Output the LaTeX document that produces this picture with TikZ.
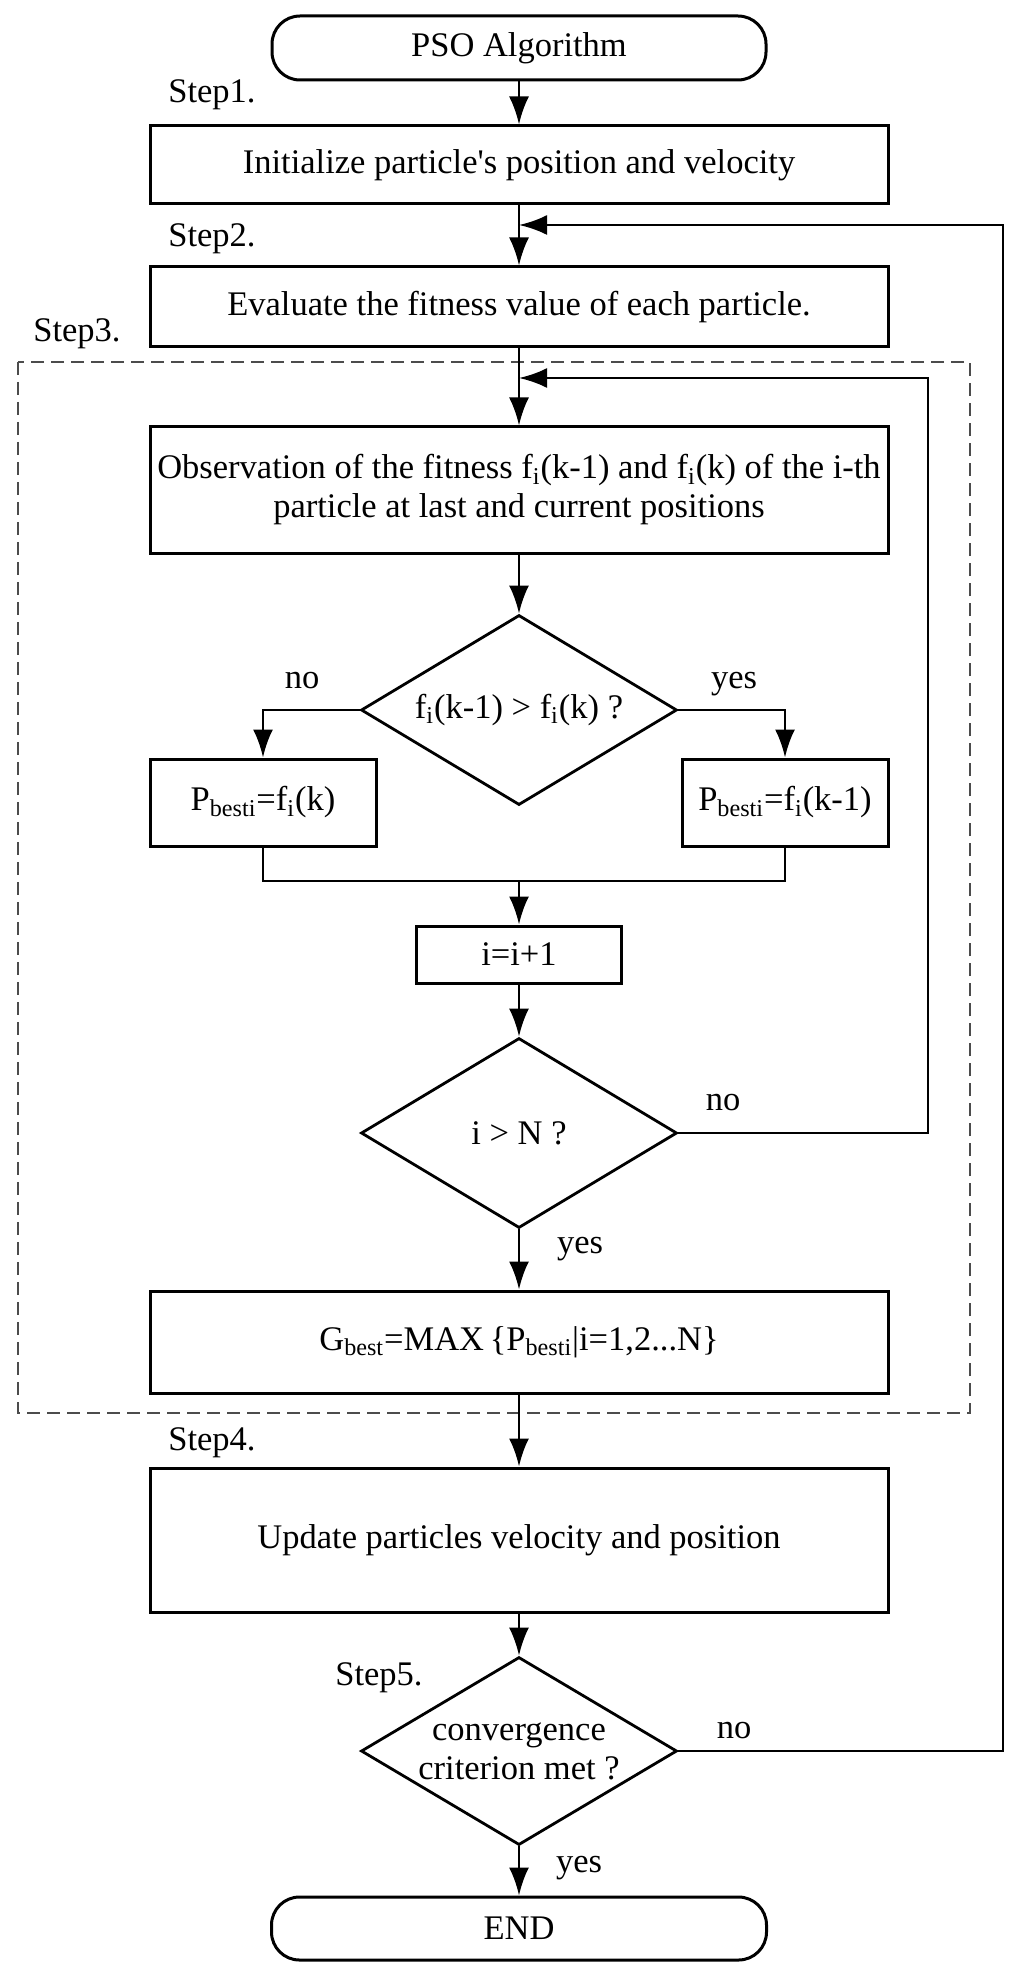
\documentclass[tikz,border=0pt]{standalone}
\usepackage{fontspec}
\setmainfont{Liberation Serif}
\usetikzlibrary{arrows.meta,shapes.geometric}
\begin{document}
\begin{tikzpicture}[x=0.5pt,y=-0.5pt,
  every node/.style={font=\fontsize{17.25}{19.5}\selectfont, inner sep=0pt},
  box/.style={draw, line width=1.5pt, rectangle, align=center},
  term/.style={draw, line width=1.5pt, rectangle, rounded corners=14pt},
  dec/.style={draw, line width=1.4pt, diamond, aspect=1.66, align=center},
  arr/.style={line width=1.4pt, -{Latex[length=14pt,width=10pt]}},
  ln/.style={line width=1.4pt},
  lbl/.style={anchor=base},
  steplbl/.style={anchor=base west},
  grp/.style={draw=black!70, line width=1pt, dash pattern=on 6.5pt off 3.5pt}
]
\useasboundingbox (0,0) rectangle (1024,1973);
\fill[white] (0,0) rectangle (1024,1973);

% dashed group (Step3)
\draw[grp] (18,362) rectangle (970,1413);

% nodes
\node[term, minimum width=247pt, minimum height=32pt] (start) at (519,48) {PSO Algorithm};
\node[box, minimum width=369pt, minimum height=39pt] (init) at (519,165) {Initialize particle\textquotesingle s position and velocity};
\node[box, minimum width=369pt, minimum height=40pt] (eval) at (519,307) {Evaluate the fitness value of each particle.};
\node[box, minimum width=369pt, minimum height=63pt] (obs) at (519,490)
  {Observation of the fitness f\textsubscript{i}(k-1) and f\textsubscript{i}(k) of the i-th\\particle at last and current positions};
\node[dec, minimum width=158pt, minimum height=95pt] (d1) at (519,710) {f\textsubscript{i}(k-1) > f\textsubscript{i}(k) ?};
\node[box, minimum width=113pt, minimum height=43.5pt] (pl) at (263,802.5) {P\textsubscript{besti}=f\textsubscript{i}(k)};
\node[box, minimum width=103pt, minimum height=43.5pt] (pr) at (785,802.5) {P\textsubscript{besti}=f\textsubscript{i}(k-1)};
\coordinate (mj) at (519,881);
\node[box, minimum width=102.5pt, minimum height=28.5pt] (inc) at (519,954.5) {i=i+1};
\node[dec, minimum width=158pt, minimum height=95pt] (d2) at (519,1133) {i > N ?};
\node[box, minimum width=369pt, minimum height=51pt] (gb) at (519,1342)
  {G\textsubscript{best}=MAX\,\{P\textsubscript{besti}|i=1,2...N\}};
\node[box, minimum width=369pt, minimum height=72pt] (upd) at (519,1540) {Update particles velocity and position};
\node[dec, minimum width=158pt, minimum height=94pt] (d3) at (519,1751) {convergence\\criterion met ?};
\node[term, minimum width=247.5pt, minimum height=31.5pt] (fin) at (519,1928.5) {END};

% junction and corner coordinates
\coordinate (j1) at (519,225);
\coordinate (j2) at (519,378);
\coordinate (outerx) at (1003,0);
\coordinate (innerx) at (928,0);

% step labels
\node[steplbl] (s1) at (168,103) {Step1.};
\node[steplbl] (s2) at (168,247) {Step2.};
\node[steplbl] (s3) at (33,342) {Step3.};
\node[steplbl] (s4) at (168,1450) {Step4.};
\node[steplbl] (s5) at (335,1685) {Step5.};

% branch labels
\node[lbl] (no1) at (302,688) {no};
\node[lbl] (yes1) at (734,688) {yes};
\node[lbl] (no2) at (723,1110) {no};
\node[lbl] (yes2) at (580,1253) {yes};
\node[lbl] (no3) at (734,1738) {no};
\node[lbl] (yes3) at (579,1872) {yes};

% connectors
\draw[arr] (start.south) -- (init.north);
\draw[arr] (init.south) -- (eval.north);
\draw[arr] (eval.south) -- (obs.north);
\draw[arr] (obs.south) -- (d1.north);
\draw[arr] (d1.west) -| (pl.north);
\draw[arr] (d1.east) -| (pr.north);
\draw[ln] (pl.south) |- (mj) -| (pr.south);
\draw[arr] (mj) -- (inc.north);
\draw[arr] (inc.south) -- (d2.north);
\draw[arr] (d2.south) -- (gb.north);
\draw[arr] (d2.east) -- (d2.east -| innerx) |- (j2);
\draw[arr] (gb.south) -- (upd.north);
\draw[arr] (upd.south) -- (d3.north);
\draw[arr] (d3.south) -- (fin.north);
\draw[arr] (d3.east) -- (d3.east -| outerx) |- (j1);
\end{tikzpicture}
\end{document}
